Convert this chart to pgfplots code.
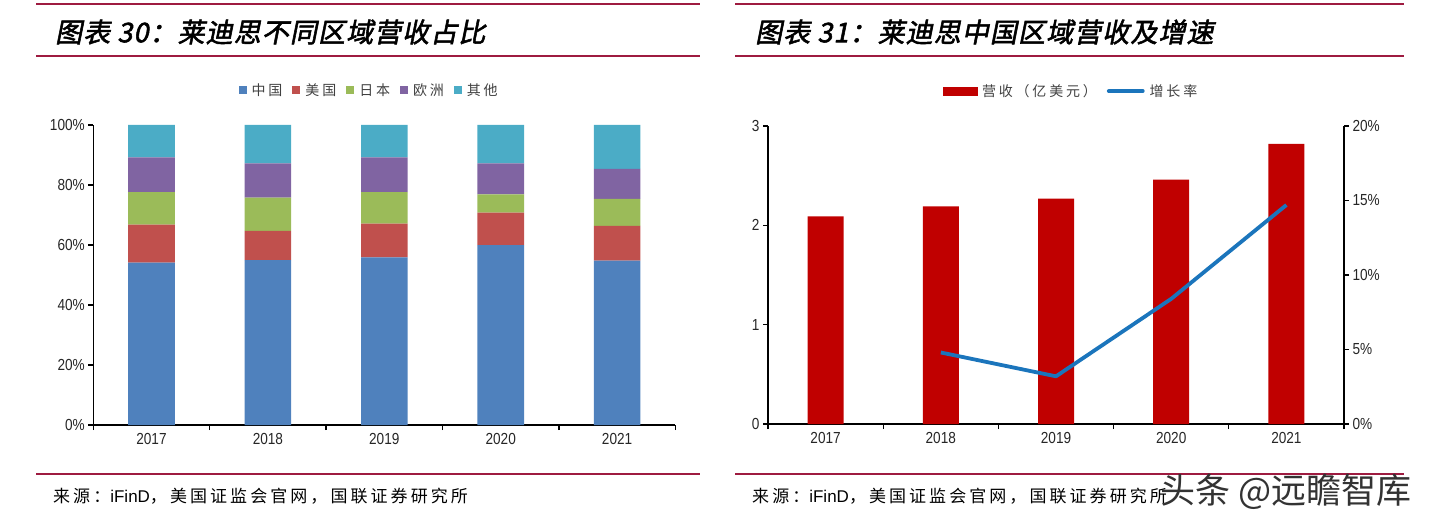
\documentclass[border=0pt]{standalone}
\usepackage{pgfplots}
\usepackage{pgfplotstable}
\pgfplotsset{compat=1.18}
\usepackage{fontspec}
\setmainfont{Liberation Sans}
\newfontfamily\cjk{Noto Sans CJK SC}
\newfontfamily\cjktitle[FakeSlant=0.2,FakeBold=2,LetterSpace=4]{Noto Sans CJK SC}
\newfontfamily\cjksp[LetterSpace=18]{Noto Sans CJK SC}
\newfontfamily\cjkleg[LetterSpace=20]{Noto Sans CJK SC}
\newfontfamily\narrow[FakeStretch=0.85]{Liberation Sans}

\definecolor{cn}{HTML}{4F81BD}
\definecolor{us}{HTML}{C0504D}
\definecolor{jp}{HTML}{9BBB59}
\definecolor{eu}{HTML}{8064A2}
\definecolor{ot}{HTML}{4BACC6}
\definecolor{barred}{HTML}{C00000}
\definecolor{lineblue}{HTML}{1B75BC}
\definecolor{rulered}{HTML}{9E1B40}

% share of revenue by region (%)
\pgfplotstableread{
x cn us jp eu ot
0 54.1 12.7 10.8 11.6 10.8
1 55.0 9.7 11.1 11.4 12.8
2 55.9 11.2 10.5 11.6 10.8
3 60.0 10.8 6.1 10.3 12.8
4 54.8 11.6 9.0 10.0 14.6
}\sharedata

% China revenue (100M USD)
\pgfplotstableread{
x rev
0 2.09
1 2.19
2 2.27
3 2.46
4 2.82
}\revdata

% growth rate (%)
\pgfplotstableread{
x g
1 4.8
2 3.2
3 8.4
4 14.7
}\growdata

\pgfplotsset{
  common/.style={
    scale only axis, anchor=south west,
    xmin=-0.5, xmax=4.5,
    axis line style={line width=1.3pt, -},
    tick align=outside,
    tick style={black, line width=1.3pt},
    major tick length=5pt, minor tick length=5pt,
    xtick={0,...,4}, xticklabels={2017,2018,2019,2020,2021},
    minor xtick={-0.5,0.5,...,4.5},
    major x tick style={draw=none},
    ticklabel style={font=\narrow\fontsize{16}{18}\selectfont, text=black!85},
    /pgf/number format/assume math mode=true,
    legend columns=-1,
    legend style={draw=none, fill=none, font=\cjkleg\fontsize{14}{16}\selectfont,
      text=black!75,
      /tikz/every odd column/.append style={column sep=3pt},
      /tikz/every even column/.append style={column sep=8pt}},
  },
}

\begin{document}
\begin{tikzpicture}
\useasboundingbox (0pt,0pt) rectangle (1434pt,523pt);

% left panel frame
\draw[rulered, line width=2.2pt] (36pt,519pt) -- (700pt,519pt);
\draw[rulered, line width=2.2pt] (36pt,467pt) -- (700pt,467pt);
\draw[rulered, line width=2.2pt] (36pt,49pt) -- (700pt,49pt);
\node[anchor=west, inner sep=0] at (55pt,491pt)
  {\cjktitle\fontsize{27}{30}\selectfont 图表 30：莱迪思不同区域营收占比};
\node[anchor=west, inner sep=0] at (53pt,27pt)
  {\cjksp\fontsize{17}{20}\selectfont 来源：{\rmfamily iFinD}，美国证监会官网，国联证券研究所};

% right panel frame
\draw[rulered, line width=2.2pt] (735pt,519pt) -- (1404pt,519pt);
\draw[rulered, line width=2.2pt] (735pt,467pt) -- (1404pt,467pt);
\draw[rulered, line width=2.2pt] (735pt,49pt) -- (1404pt,49pt);
\node[anchor=west, inner sep=0] at (755pt,491pt)
  {\cjktitle\fontsize{27}{30}\selectfont 图表 31：莱迪思中国区域营收及增速};
\node[anchor=west, inner sep=0] at (752pt,27pt)
  {\cjksp\fontsize{17}{20}\selectfont 来源：{\rmfamily iFinD}，美国证监会官网，国联证券研究所};

% left chart: stacked shares
\begin{axis}[common,
    at={(93.3pt,98pt)}, width=582pt, height=300pt,
    ybar stacked, bar width=46.6pt,
    ymin=0, ymax=100, ytick={0,20,...,100},
    yticklabel={\pgfmathprintnumber{\tick}\%},
    axis x line*=bottom, axis y line*=left,
    legend style={at={(0.474,1.116)}, anchor=center},
  ]
  \addplot[fill=cn, draw=none, legend image code/.code={\fill[cn] (0pt,-4pt) rectangle (8pt,4pt);}] table[x=x,y=cn] {\sharedata};
  \addplot[fill=us, draw=none, legend image code/.code={\fill[us] (0pt,-4pt) rectangle (8pt,4pt);}] table[x=x,y=us] {\sharedata};
  \addplot[fill=jp, draw=none, legend image code/.code={\fill[jp] (0pt,-4pt) rectangle (8pt,4pt);}] table[x=x,y=jp] {\sharedata};
  \addplot[fill=eu, draw=none, legend image code/.code={\fill[eu] (0pt,-4pt) rectangle (8pt,4pt);}] table[x=x,y=eu] {\sharedata};
  \addplot[fill=ot, draw=none, legend image code/.code={\fill[ot] (0pt,-4pt) rectangle (8pt,4pt);}] table[x=x,y=ot] {\sharedata};
  \legend{中国,美国,日本,欧洲,其他}
\end{axis}

% right chart: revenue bars
\begin{axis}[common,
    at={(768pt,99pt)}, width=576pt, height=298pt,
    ybar, bar width=36pt,
    ymin=0, ymax=3, ytick={0,1,2,3},
    axis x line*=bottom, axis y line*=left,
  ]
  \addplot[fill=barred, draw=none] table[x=x,y=rev] {\revdata};
\end{axis}

% right chart: growth line
\begin{axis}[common,
    at={(768pt,99pt)}, width=576pt, height=298pt,
    ymin=0, ymax=20, ytick={0,5,...,20},
    yticklabel={\pgfmathprintnumber{\tick}\%},
    axis y line*=right, axis x line=none,
    legend style={at={(0.526,1.117)}, anchor=center},
  ]
  \addlegendimage{legend image code/.code={\fill[barred] (0pt,-4pt) rectangle (34pt,4pt);}}
  \addlegendentry{营收（亿美元）}
  \addplot[lineblue, line width=3.8pt, mark=none, line join=round,
    legend image code/.code={\draw[lineblue, line width=3.8pt, line cap=round] (0pt,0pt) -- (34pt,0pt);}]
    table[x=x,y=g] {\growdata};
  \addlegendentry{增长率}
\end{axis}

% watermark
\node[anchor=west, inner sep=0, text=black!80] at (1160pt,31pt)
  {\cjk\fontsize{35}{40}\selectfont 头条 @远瞻智库};
\end{tikzpicture}
\end{document}
